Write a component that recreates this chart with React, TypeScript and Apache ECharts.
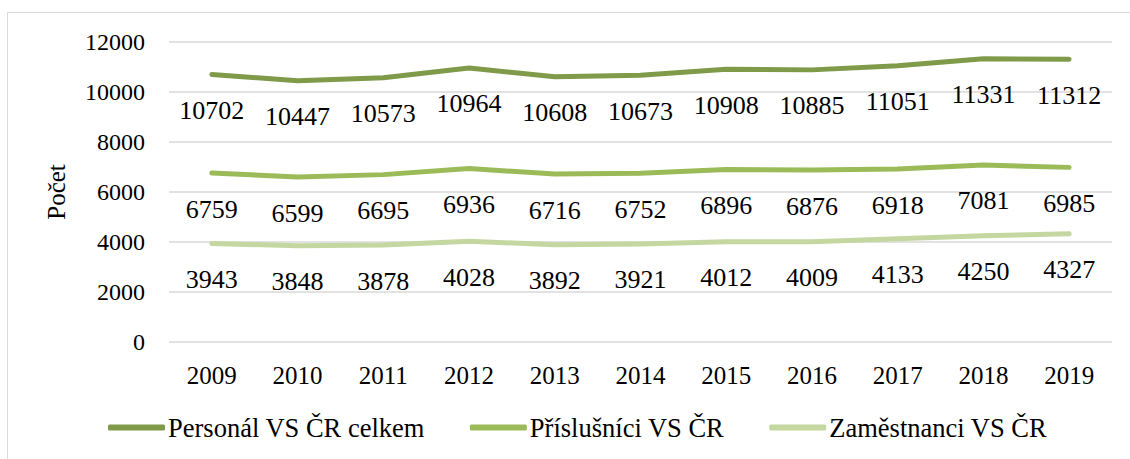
import React, { useEffect, useRef } from "react";
import * as echarts from "echarts";

const years = ["2009", "2010", "2011", "2012", "2013", "2014", "2015", "2016", "2017", "2018", "2019"];
const personal = [10702, 10447, 10573, 10964, 10608, 10673, 10908, 10885, 11051, 11331, 11312];
const prislusnici = [6759, 6599, 6695, 6936, 6716, 6752, 6896, 6876, 6918, 7081, 6985];
const zamestnanci = [3943, 3848, 3878, 4028, 3892, 3921, 4012, 4009, 4133, 4250, 4327];
const seriesNames = ["Personál VS ČR celkem", "Příslušníci VS ČR", "Zaměstnanci VS ČR"];
const colors = ["#7f9a48", "#9bbb59", "#c4d7a0"];

const FONT = "Liberation Serif";

export default function App() {
  const ref = useRef<HTMLDivElement>(null);
  useEffect(() => {
    const chart = echarts.init(ref.current!, null, { renderer: "svg" });
    const mk = (name: string, data: number[], color: string) => ({
      name,
      type: "line",
      data,
      symbol: "circle",
      symbolSize: 0,
      showSymbol: true,
      lineStyle: { color, width: 5, cap: "round", join: "round" },
      itemStyle: { color },
      label: {
        show: true,
        position: "bottom",
        distance: 23,
        fontFamily: FONT,
        fontSize: 26,
        color: "#000",
      },
      labelLayout: { hideOverlap: false },
    });
    chart.setOption({
      animation: false,
      backgroundColor: "#fff",
      textStyle: { fontFamily: FONT, fontSize: 25, color: "#000" },
      graphic: [
        {
          type: "rect",
          shape: { x: 7.5, y: 12.5, width: 1200, height: 500 },
          style: { fill: "none", stroke: "#d9d9d9", lineWidth: 1 },
          silent: true,
        },
      ],
      grid: { left: 169, right: 18, top: 42, height: 300 },
      xAxis: {
        type: "category",
        data: years,
        boundaryGap: true,
        axisLine: { show: false },
        axisTick: { show: false },
        axisLabel: { fontFamily: FONT, fontSize: 25, color: "#000", margin: 21 },
      },
      yAxis: {
        type: "value",
        min: 0,
        max: 12000,
        interval: 2000,
        name: "Počet",
        nameLocation: "middle",
        nameGap: 100,
        nameRotate: 90,
        nameTextStyle: { fontFamily: FONT, fontSize: 25, color: "#000" },
        axisLine: { show: false },
        axisTick: { show: false },
        axisLabel: {
          fontFamily: FONT,
          fontSize: 24,
          color: "#000",
          margin: 24,
          formatter: (v: number) => String(v),
        },
        splitLine: { lineStyle: { color: "#d9d9d9", width: 1.5 } },
      },
      legend: {
        top: 414,
        left: 108,
        padding: 0,
        itemWidth: 57,
        itemHeight: 6,
        itemGap: 45,
        icon: "roundRect",
        textStyle: { fontFamily: FONT, fontSize: 26.5, color: "#000", padding: [0, 0, 0, -2] },
        data: seriesNames,
      },
      series: [
        mk(seriesNames[0], personal, colors[0]),
        mk(seriesNames[1], prislusnici, colors[1]),
        mk(seriesNames[2], zamestnanci, colors[2]),
      ],
    });
    return () => chart.dispose();
  }, []);
  return (
    <div
      ref={ref}
      style={{ position: "absolute", left: 0, top: 0, width: 1130, height: 459 }}
    />
  );
}
